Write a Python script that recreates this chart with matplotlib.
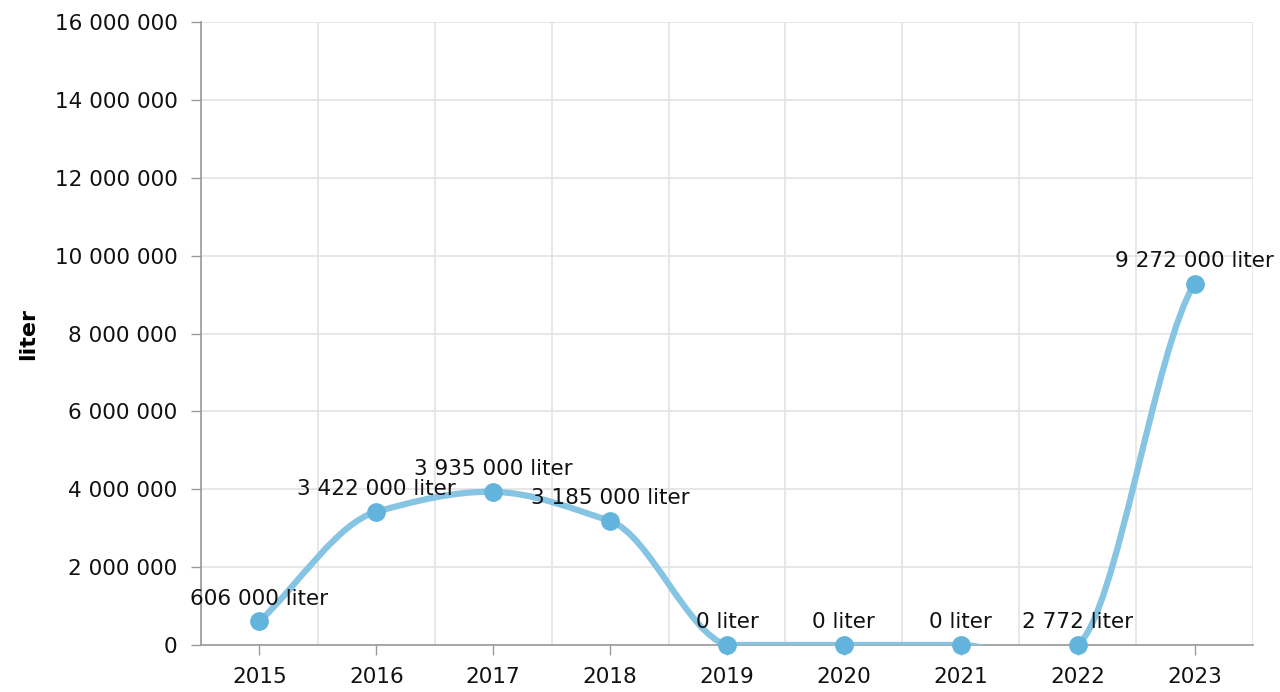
import numpy as np
import matplotlib.pyplot as plt
from matplotlib.path import Path
from matplotlib.patches import PathPatch

years = ['2015', '2016', '2017', '2018', '2019', '2020', '2021', '2022', '2023']
values = [606000, 3422000, 3935000, 3185000, 0, 0, 0, 2772, 9272000]
labels = ['606 000 liter', '3 422 000 liter', '3 935 000 liter', '3 185 000 liter',
          '0 liter', '0 liter', '0 liter', '2 772 liter', '9 272 000 liter']
yticks = [0, 2e6, 4e6, 6e6, 8e6, 10e6, 12e6, 14e6, 16e6]
ytick_labels = ['0', '2 000 000', '4 000 000', '6 000 000', '8 000 000',
                '10 000 000', '12 000 000', '14 000 000', '16 000 000']

line_color = '#86c4e3'
marker_color = '#62b4dc'
grid_color = '#e3e3e3'
axis_color = '#999999'


def smooth_path(xs, ys, k=0.5):
    # cubic hermite curve; forward handle kept inside the next step
    y = np.asarray(ys, float)
    n = len(y)
    m = np.zeros(n)
    m[0] = y[1] - y[0]
    m[-1] = k * (y[-1] - y[-2])
    for i in range(1, n - 1):
        m[i] = k * (y[i + 1] - y[i - 1]) / 2
    fwd = m / 3
    back = m / 3
    for i in range(n - 1):
        step = y[i + 1] - y[i]
        fwd[i] = min(max(fwd[i], min(0, step)), max(0, step))
    verts = [(xs[0], y[0])]
    codes = [Path.MOVETO]
    for i in range(n - 1):
        verts += [(xs[i] + 1 / 3, y[i] + fwd[i]),
                  (xs[i + 1] - 1 / 3, y[i + 1] - back[i + 1]),
                  (xs[i + 1], y[i + 1])]
        codes += [Path.CURVE4] * 3
    return Path(verts, codes)


plt.rcParams['font.family'] = ['DejaVu Sans']
fig = plt.figure(figsize=(12.8, 6.92), dpi=100)
ax = fig.add_axes([201 / 1280, 1 - 645 / 692, 1052 / 1280, 623 / 692])

ax.set_xlim(-0.5, len(years) - 0.5)
ax.set_ylim(0, 16e6)

x = np.arange(len(years))
ax.add_patch(PathPatch(smooth_path(x, values), facecolor='none',
                       edgecolor=line_color, lw=4.5, capstyle='round', zorder=3))
ax.plot(x, values, 'o', color=marker_color, markersize=12.5, zorder=4, clip_on=False)

for xi, v, lab in zip(x, values, labels):
    ax.annotate(lab, (xi, v), xytext=(0, 12), textcoords='offset points',
                ha='center', va='baseline', fontsize=15.5, color='#111111',
                annotation_clip=False, zorder=5)

ax.set_xticks(x)
ax.set_xticklabels(years)
ax.set_yticks(yticks)
ax.set_yticklabels(ytick_labels)
ax.set_xticks(np.arange(len(years) + 1) - 0.5, minor=True)

ax.grid(True, which='minor', axis='x', color=grid_color, lw=1.2)
ax.grid(True, which='major', axis='y', color=grid_color, lw=1.2)
ax.set_axisbelow(True)

ax.tick_params(axis='x', which='major', length=7, width=1, color=axis_color,
               pad=9, labelsize=15.5, labelcolor='#111111')
ax.tick_params(axis='x', which='minor', length=0)
ax.tick_params(axis='y', length=7, width=1, color=axis_color,
               pad=10, labelsize=15.5, labelcolor='#111111')

for s in ['top', 'right']:
    ax.spines[s].set_visible(False)
for s in ['left', 'bottom']:
    ax.spines[s].set_color(axis_color)
    ax.spines[s].set_linewidth(1.2)

ax.set_ylabel('liter', fontsize=16, fontweight='bold')
ax.yaxis.set_label_coords(-0.155, 0.5)

fig.savefig('out.png', dpi=100)
